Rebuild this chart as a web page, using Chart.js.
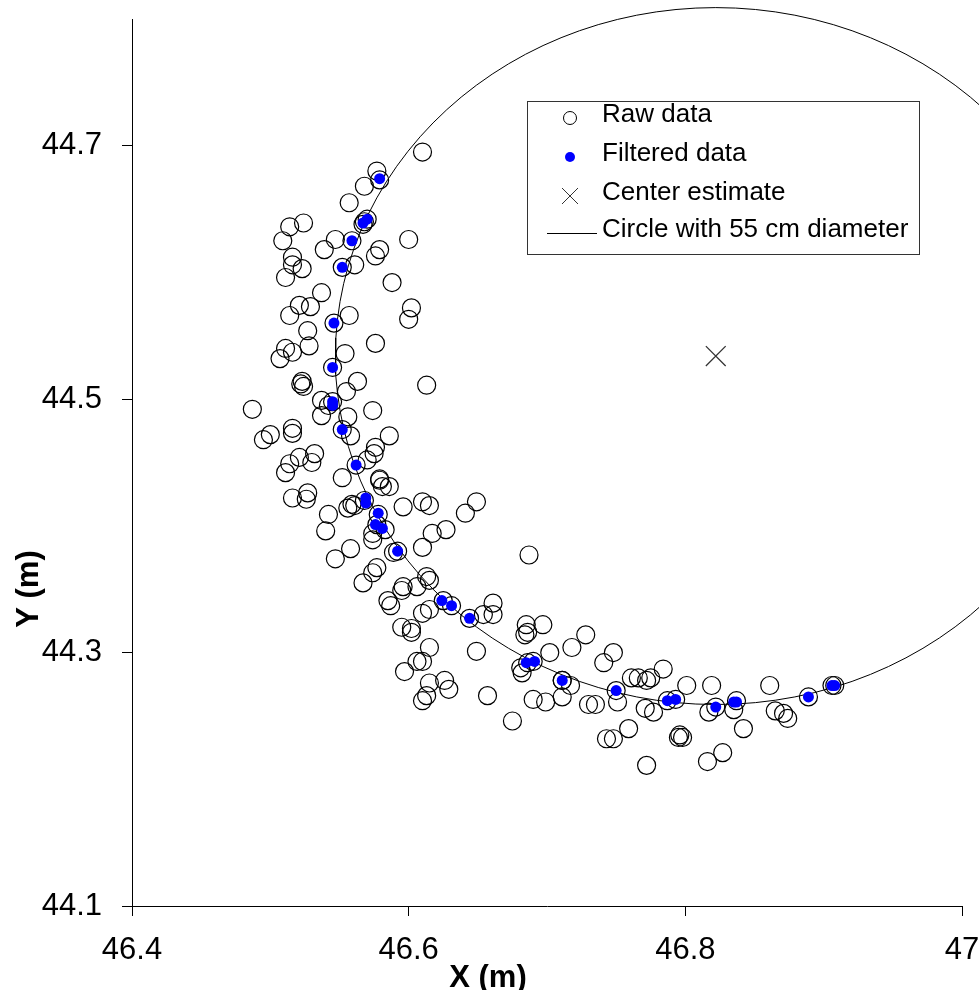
<!DOCTYPE html>
<html>
<head>
    <title>Circle fit</title>
    <script src="https://cdn.jsdelivr.net/npm/chart.js"></script>
    <style>
        body {
            margin: 0;
            background-color: #fff;
        }
    </style>
</head>
<body>
    <canvas id="chart" width="979" height="990"></canvas>
    <script>
        // raw measurements (m)
        var rawX = [
            46.610, 46.577, 46.579, 46.568, 46.557, 46.568, 46.567, 46.570, 46.524, 46.514,
            46.509, 46.547, 46.559, 46.600, 46.539, 46.579, 46.576, 46.516, 46.516, 46.523,
            46.511, 46.561, 46.552, 46.588, 46.537, 46.521, 46.529, 46.514, 46.602, 46.600,
            46.557, 46.546, 46.527, 46.528, 46.576, 46.511, 46.516, 46.507, 46.554, 46.545,
            46.523, 46.522, 46.524, 46.563, 46.613, 46.555, 46.537, 46.545, 46.542, 46.487,
            46.574, 46.537, 46.556, 46.516, 46.516, 46.500, 46.495, 46.552, 46.558, 46.586,
            46.532, 46.530, 46.521, 46.514, 46.511, 46.562, 46.576, 46.575, 46.570, 46.552,
            46.579, 46.579, 46.586, 46.581, 46.568, 46.559, 46.556, 46.561, 46.516, 46.527,
            46.526, 46.596, 46.610, 46.615, 46.641, 46.649, 46.578, 46.577, 46.583, 46.574,
            46.574, 46.542, 46.540, 46.558, 46.547, 46.592, 46.589, 46.617, 46.627, 46.610,
            46.577, 46.574, 46.567, 46.595, 46.596, 46.585, 46.587, 46.613, 46.615, 46.606,
            46.625, 46.631, 46.615, 46.610, 46.644, 46.661, 46.654, 46.661, 46.595, 46.602,
            46.602, 46.615, 46.610, 46.606, 46.597, 46.615, 46.613, 46.610, 46.626, 46.629,
            46.649, 46.657, 46.675, 46.685, 46.686, 46.684, 46.697, 46.687, 46.681, 46.682,
            46.686, 46.690, 46.702, 46.711, 46.711, 46.717, 46.690, 46.699, 46.711, 46.718,
            46.728, 46.741, 46.748, 46.730, 46.735, 46.750, 46.751, 46.761, 46.766, 46.772,
            46.775, 46.784, 46.759, 46.743, 46.748, 46.771, 46.777, 46.787, 46.793, 46.772,
            46.795, 46.796, 46.798, 46.801, 46.819, 46.861, 46.822, 46.817, 46.837, 46.835,
            46.842, 46.827, 46.816, 46.865, 46.871, 46.874, 46.889, 46.906, 46.908
        ];
        var rawY = [
            44.695, 44.680, 44.673, 44.668, 44.655, 44.640, 44.638, 44.642, 44.639, 44.636,
            44.625, 44.626, 44.625, 44.626, 44.618, 44.618, 44.613, 44.612, 44.606, 44.603,
            44.596, 44.606, 44.604, 44.592, 44.584, 44.574, 44.573, 44.566, 44.572, 44.563,
            44.566, 44.560, 44.554, 44.542, 44.544, 44.540, 44.537, 44.532, 44.536, 44.525,
            44.514, 44.512, 44.510, 44.514, 44.511, 44.506, 44.499, 44.498, 44.495, 44.492,
            44.491, 44.487, 44.486, 44.477, 44.473, 44.472, 44.468, 44.476, 44.471, 44.471,
            44.457, 44.450, 44.454, 44.449, 44.442, 44.448, 44.462, 44.457, 44.452, 44.438,
            44.437, 44.436, 44.431, 44.431, 44.420, 44.417, 44.414, 44.416, 44.422, 44.426,
            44.421, 44.415, 44.419, 44.416, 44.410, 44.419, 44.409, 44.401, 44.397, 44.389,
            44.394, 44.409, 44.396, 44.382, 44.374, 44.380, 44.379, 44.394, 44.397, 44.383,
            44.367, 44.363, 44.355, 44.349, 44.352, 44.341, 44.337, 44.360, 44.357, 44.352,
            44.341, 44.337, 44.334, 44.331, 44.327, 44.339, 44.330, 44.330, 44.320, 44.319,
            44.316, 44.304, 44.293, 44.293, 44.285, 44.276, 44.266, 44.262, 44.278, 44.271,
            44.301, 44.266, 44.246, 44.322, 44.316, 44.314, 44.322, 44.377, 44.288, 44.284,
            44.292, 44.293, 44.300, 44.278, 44.278, 44.274, 44.263, 44.261, 44.265, 44.304,
            44.314, 44.292, 44.300, 44.259, 44.259, 44.270, 44.261, 44.280, 44.280, 44.278,
            44.280, 44.287, 44.240, 44.232, 44.232, 44.256, 44.253, 44.262, 44.263, 44.211,
            44.233, 44.235, 44.233, 44.274, 44.274, 44.274, 44.257, 44.253, 44.262, 44.255,
            44.240, 44.221, 44.214, 44.254, 44.252, 44.248, 44.265, 44.274, 44.274
        ];

        // filtered measurements (m)
        var filteredX = [
            46.579, 46.567, 46.570, 46.559, 46.552, 46.546, 46.545, 46.545, 46.545, 46.552,
            46.562, 46.569, 46.569, 46.578, 46.576, 46.581, 46.592, 46.624, 46.631, 46.644,
            46.685, 46.691, 46.711, 46.750, 46.787, 46.793, 46.822, 46.835, 46.837, 46.889,
            46.906, 46.908
        ];
        var filteredY = [
            44.674, 44.639, 44.642, 44.625, 44.604, 44.560, 44.525, 44.498, 44.495, 44.476,
            44.448, 44.422, 44.418, 44.410, 44.401, 44.398, 44.380, 44.341, 44.337, 44.327,
            44.292, 44.293, 44.278, 44.270, 44.262, 44.263, 44.257, 44.261, 44.261, 44.265,
            44.274, 44.274
        ];

        var centerX = [46.822];
        var centerY = [44.534];
        var circleDiameter = 0.55; // 55 cm

        var xTicks = [46.4, 46.6, 46.8, 47.0];
        var xTickLabels = ['46.4', '46.6', '46.8', '47'];
        var yTicks = [44.1, 44.3, 44.5, 44.7];
        var yTickLabels = ['44.1', '44.3', '44.5', '44.7'];
        var seriesNames = ['Raw data', 'Filtered data', 'Center estimate', 'Circle with 55 cm diameter'];

        var FONT = '"Liberation Sans", Arial, sans-serif';

        function toPoints(xs, ys) {
            return xs.map(function(x, i) { return { x: x, y: ys[i] }; });
        }

        // circle outline around the center estimate
        var circlePoints = [];
        var r = circleDiameter / 2;
        for (var k = 0; k <= 120; k++) {
            var a = k / 120 * 2 * Math.PI;
            circlePoints.push({ x: centerX[0] + r * Math.cos(a), y: centerY[0] + r * Math.sin(a) });
        }

        // axis titles + legend box, drawn after the chart
        var decorations = {
            id: 'decorations',
            afterDraw: function(chart) {
                var ctx = chart.ctx;
                ctx.save();
                ctx.fillStyle = '#000';
                ctx.font = 'bold 31px ' + FONT;
                ctx.textAlign = 'center';
                ctx.textBaseline = 'alphabetic';
                ctx.fillText('X (m)', 488, 987);
                ctx.save();
                ctx.translate(38, 589);
                ctx.rotate(-Math.PI / 2);
                ctx.fillText('Y (m)', 0, 0);
                ctx.restore();

                // legend
                ctx.fillStyle = '#fff';
                ctx.fillRect(527, 101, 392, 153);
                ctx.strokeStyle = '#333';
                ctx.lineWidth = 1;
                ctx.strokeRect(527.5, 101.5, 392, 153);

                var mx = 570, tx = 602;
                var rows = [118, 157, 196, 233];
                ctx.strokeStyle = '#000';
                ctx.beginPath();
                ctx.arc(mx, rows[0], 6.5, 0, 2 * Math.PI);
                ctx.stroke();
                ctx.fillStyle = '#0000ff';
                ctx.beginPath();
                ctx.arc(mx, rows[1], 5, 0, 2 * Math.PI);
                ctx.fill();
                ctx.strokeStyle = '#333';
                ctx.beginPath();
                ctx.moveTo(mx - 8, rows[2] - 8); ctx.lineTo(mx + 8, rows[2] + 8);
                ctx.moveTo(mx + 8, rows[2] - 8); ctx.lineTo(mx - 8, rows[2] + 8);
                ctx.stroke();
                ctx.strokeStyle = '#000';
                ctx.beginPath();
                ctx.moveTo(547, rows[3] + 0.5); ctx.lineTo(597, rows[3] + 0.5);
                ctx.stroke();

                ctx.fillStyle = '#000';
                ctx.font = '26px ' + FONT;
                ctx.textAlign = 'left';
                ctx.textBaseline = 'middle';
                for (var i = 0; i < seriesNames.length; i++) {
                    ctx.fillText(seriesNames[i], tx, rows[i] - 3);
                }
                ctx.restore();
            }
        };

        var axisStyle = {
            grid: { display: true, drawOnChartArea: false, drawTicks: true, tickLength: 10, color: '#000', lineWidth: 1 },
            border: { display: true, color: '#000', width: 1 }
        };

        new Chart(document.getElementById('chart'), {
            type: 'scatter',
            data: {
                datasets: [
                    {
                        label: seriesNames[0],
                        data: toPoints(rawX, rawY),
                        pointStyle: 'circle',
                        pointRadius: 9,
                        borderColor: '#000',
                        backgroundColor: 'rgba(0,0,0,0)',
                        borderWidth: 1.2,
                        order: 4
                    },
                    {
                        label: seriesNames[1],
                        data: toPoints(filteredX, filteredY),
                        pointStyle: 'circle',
                        pointRadius: 5.5,
                        borderWidth: 0,
                        backgroundColor: '#0000ff',
                        borderColor: '#0000ff',
                        order: 1
                    },
                    {
                        label: seriesNames[2],
                        data: toPoints(centerX, centerY),
                        pointStyle: 'crossRot',
                        pointRadius: 14,
                        borderColor: '#333',
                        borderWidth: 1.3,
                        order: 2
                    },
                    {
                        label: seriesNames[3],
                        data: circlePoints,
                        showLine: true,
                        pointRadius: 0,
                        borderColor: '#000',
                        borderWidth: 1,
                        clip: false,
                        order: 3
                    }
                ]
            },
            options: {
                responsive: false,
                animation: false,
                layout: { padding: { top: 19, right: 17, left: 0, bottom: 0 } },
                plugins: {
                    legend: { display: false },
                    tooltip: { enabled: false }
                },
                scales: {
                    x: Object.assign({
                        type: 'linear',
                        position: 'bottom',
                        min: 46.4,
                        max: 47.0,
                        afterBuildTicks: function(s) { s.ticks = xTicks.map(function(v) { return { value: v }; }); },
                        afterFit: function(s) {
                            s.height = 84;
                            s.paddingLeft = 0;
                            s.paddingRight = 0;
                        },
                        ticks: {
                            autoSkip: false,
                            maxRotation: 0,
                            padding: 16,
                            color: '#000',
                            font: { family: FONT, size: 31 },
                            callback: function(v) { return xTickLabels[xTicks.indexOf(v)]; }
                        }
                    }, axisStyle),
                    y: Object.assign({
                        type: 'linear',
                        min: 44.1,
                        max: 44.8,
                        afterBuildTicks: function(s) { s.ticks = yTicks.map(function(v) { return { value: v }; }); },
                        afterFit: function(s) {
                            s.width = 132;
                            s.paddingTop = 0;
                            s.paddingBottom = 0;
                        },
                        ticks: {
                            autoSkip: false,
                            padding: 20,
                            color: '#000',
                            font: { family: FONT, size: 31 },
                            callback: function(v) { return yTickLabels[yTicks.indexOf(v)]; }
                        }
                    }, axisStyle)
                }
            },
            plugins: [decorations]
        });
    </script>
</body>
</html>
